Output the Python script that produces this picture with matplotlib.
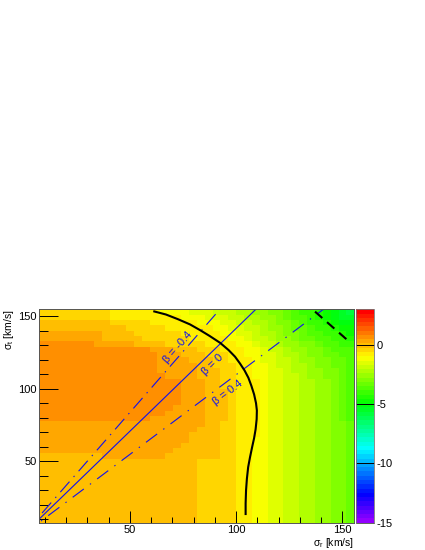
import colorsys
import numpy as np
import matplotlib
matplotlib.use('Agg')
import matplotlib.pyplot as plt
from matplotlib.colors import ListedColormap, Normalize
from matplotlib.ticker import MultipleLocator

plt.rcParams['font.family'] = ['Liberation Sans', 'DejaVu Sans']
plt.rcParams['mathtext.fontset'] = 'custom'
plt.rcParams['mathtext.rm'] = 'Liberation Sans'
plt.rcParams['mathtext.it'] = 'Liberation Sans'
plt.rcParams['axes.unicode_minus'] = False
plt.rcParams['lines.scale_dashes'] = False

# Histogram range and binning (40 x 40 cells)
sr_range = [7.3, 155.7]
st_range = [7.75, 154.6]
n_bins = 40
z_range = [-15, 3]

# Cell values, rows listed from the top (sigma_t high) to the bottom
loglike_rows = [
    [-0.4, -0.4, -0.4, -0.4, -0.4, -0.4, -0.4, -0.4, -0.4, -0.8, -0.8, -0.8, -0.8, -0.8, -0.8, -1.1, -1.1, -1.1, -1.1, -1.5,
     -1.5, -1.5, -1.9, -1.9, -1.9, -2.2, -2.2, -2.6, -2.6, -2.9, -2.9, -3.3, -3.7, -4.0, -4.0, -4.4, -4.7, -5.1, -5.5, -5.8],
    [-0.4, -0.4, -0.4, -0.4, -0.4, -0.4, -0.4, -0.4, -0.4, -0.8, -0.8, -0.8, -0.8, -0.8, -0.8, -0.8, -0.8, -0.8, -1.1, -1.1,
     -1.1, -1.5, -1.5, -1.5, -1.9, -1.9, -2.2, -2.2, -2.6, -2.6, -2.9, -3.3, -3.7, -3.7, -4.0, -4.4, -4.7, -5.1, -5.5, -5.5],
    [-0.1, -0.1, -0.1, -0.1, -0.1, -0.1, -0.1, -0.1, -0.1, -0.4, -0.4, -0.4, -0.4, -0.4, -0.8, -0.8, -0.8, -0.8, -0.8, -0.8,
     -1.1, -1.1, -1.1, -1.5, -1.5, -1.9, -1.9, -2.2, -2.2, -2.6, -2.9, -2.9, -3.3, -3.7, -4.0, -4.0, -4.4, -4.7, -5.1, -5.1],
    [-0.1, -0.1, -0.1, -0.1, -0.1, -0.1, -0.1, -0.1, -0.1, -0.1, -0.1, -0.4, -0.4, -0.4, -0.4, -0.4, -0.8, -0.8, -0.8, -0.8,
     -0.8, -0.8, -1.1, -1.1, -1.5, -1.5, -1.9, -1.9, -2.2, -2.6, -2.6, -2.9, -3.3, -3.3, -3.7, -4.0, -4.0, -4.4, -4.7, -4.7],
    [0.3, 0.3, 0.3, 0.3, 0.3, 0.3, 0.3, 0.3, -0.1, -0.1, -0.1, -0.1, -0.4, -0.4, -0.4, -0.4, -0.4, -0.4, -0.8, -0.8,
     -0.8, -0.8, -0.8, -1.1, -1.1, -1.5, -1.5, -1.9, -2.2, -2.2, -2.6, -2.9, -2.9, -3.3, -3.7, -3.7, -4.0, -4.0, -4.4, -4.7],
    [0.3, 0.3, 0.3, 0.3, 0.3, 0.3, 0.3, 0.3, -0.1, -0.1, -0.1, -0.1, -0.1, -0.4, -0.4, -0.4, -0.4, -0.4, -0.4, -0.8,
     -0.8, -0.8, -0.8, -0.8, -1.1, -1.1, -1.5, -1.9, -1.9, -2.2, -2.6, -2.6, -2.9, -3.3, -3.3, -3.7, -3.7, -4.0, -4.0, -4.4],
    [0.7, 0.7, 0.7, 0.7, 0.7, 0.7, 0.7, 0.3, 0.3, 0.3, 0.3, 0.3, -0.1, -0.1, -0.1, -0.1, -0.4, -0.4, -0.4, -0.4,
     -0.4, -0.8, -0.8, -0.8, -0.8, -1.1, -1.1, -1.5, -1.9, -1.9, -2.2, -2.6, -2.6, -2.9, -2.9, -3.3, -3.7, -3.7, -4.0, -4.0],
    [0.7, 0.7, 0.7, 0.7, 0.7, 0.7, 0.7, 0.7, 0.7, 0.7, 0.7, 0.7, 0.7, 0.7, 0.3, 0.3, 0.3, -0.1, -0.1, -0.1,
     -0.4, -0.4, -0.4, -0.8, -0.8, -0.8, -1.1, -1.1, -1.5, -1.9, -1.9, -2.2, -2.6, -2.6, -2.9, -2.9, -3.3, -3.7, -3.7, -3.7],
    [0.7, 0.7, 0.7, 0.7, 0.7, 0.7, 0.7, 0.7, 0.7, 0.7, 0.7, 0.7, 0.7, 0.7, 0.7, 0.3, 0.3, 0.3, -0.1, -0.1,
     -0.1, -0.4, -0.4, -0.4, -0.8, -0.8, -1.1, -1.1, -1.5, -1.5, -1.9, -2.2, -2.2, -2.6, -2.9, -2.9, -3.3, -3.3, -3.7, -3.7],
    [0.7, 0.7, 0.7, 0.7, 0.7, 0.7, 0.7, 0.7, 0.7, 0.7, 0.7, 0.7, 0.7, 0.7, 0.7, 0.3, 0.3, 0.3, 0.3, -0.1,
     -0.1, -0.1, -0.4, -0.4, -0.8, -0.8, -0.8, -1.1, -1.5, -1.5, -1.9, -1.9, -2.2, -2.6, -2.6, -2.9, -2.9, -3.3, -3.3, -3.7],
    [0.7, 0.7, 0.7, 0.7, 0.7, 0.7, 0.7, 0.7, 0.7, 0.7, 0.7, 0.7, 0.7, 0.7, 0.7, 0.3, 0.3, 0.3, 0.3, 0.3,
     -0.1, -0.1, -0.4, -0.4, -0.4, -0.8, -0.8, -1.1, -1.1, -1.5, -1.9, -1.9, -2.2, -2.2, -2.6, -2.9, -2.9, -3.3, -3.3, -3.7],
    [0.7, 0.7, 0.7, 0.7, 0.7, 0.7, 0.7, 0.7, 0.7, 0.7, 0.7, 0.7, 0.7, 0.7, 0.7, 0.3, 0.3, 0.3, 0.3, 0.3,
     -0.1, -0.1, -0.1, -0.4, -0.4, -0.8, -0.8, -1.1, -1.1, -1.5, -1.5, -1.9, -2.2, -2.2, -2.6, -2.6, -2.9, -2.9, -3.3, -3.7],
    [0.7, 0.7, 0.7, 0.7, 0.7, 0.7, 0.7, 0.7, 0.7, 0.7, 0.7, 0.7, 0.7, 0.7, 0.7, 0.7, 0.3, 0.3, 0.3, 0.3,
     -0.1, -0.1, -0.1, -0.4, -0.4, -0.8, -0.8, -1.1, -1.1, -1.5, -1.5, -1.9, -1.9, -2.2, -2.6, -2.6, -2.9, -2.9, -3.3, -3.7],
    [0.7, 0.7, 0.7, 0.7, 0.7, 0.7, 0.7, 0.7, 0.7, 0.7, 0.7, 0.7, 0.7, 0.7, 0.7, 0.7, 0.7, 0.7, 0.3, 0.3,
     0.3, -0.1, -0.1, -0.4, -0.4, -0.8, -0.8, -0.8, -1.1, -1.5, -1.5, -1.9, -1.9, -2.2, -2.2, -2.6, -2.6, -2.9, -3.3, -3.7],
    [0.7, 0.7, 0.7, 0.7, 0.7, 0.7, 0.7, 0.7, 0.7, 0.7, 0.7, 0.7, 0.7, 0.7, 0.7, 0.7, 0.7, 0.7, 0.3, 0.3,
     0.3, -0.1, -0.1, -0.4, -0.4, -0.8, -0.8, -0.8, -1.1, -1.5, -1.5, -1.9, -1.9, -2.2, -2.2, -2.6, -2.6, -2.9, -3.3, -3.7],
    [0.7, 0.7, 0.7, 0.7, 0.7, 0.7, 0.7, 0.7, 0.7, 0.7, 0.7, 0.7, 0.7, 0.7, 0.7, 0.7, 0.7, 0.7, 0.3, 0.3,
     0.3, -0.1, -0.1, -0.1, -0.4, -0.8, -0.8, -0.8, -1.1, -1.5, -1.5, -1.9, -1.9, -2.2, -2.2, -2.6, -2.6, -2.9, -3.3, -3.7],
    [0.7, 0.7, 0.7, 0.7, 0.7, 0.7, 0.7, 0.7, 0.7, 0.7, 0.7, 0.7, 0.7, 0.7, 0.7, 0.7, 0.7, 0.7, 0.3, 0.3,
     0.3, -0.1, -0.1, -0.1, -0.4, -0.8, -0.8, -0.8, -1.1, -1.5, -1.5, -1.9, -1.9, -2.2, -2.2, -2.6, -2.6, -2.9, -3.3, -3.7],
    [0.7, 0.7, 0.7, 0.7, 0.7, 0.7, 0.7, 0.7, 0.7, 0.7, 0.7, 0.7, 0.7, 0.7, 0.7, 0.7, 0.7, 0.7, 0.3, 0.3,
     0.3, -0.1, -0.1, -0.1, -0.4, -0.8, -0.8, -0.8, -1.1, -1.5, -1.5, -1.9, -1.9, -2.2, -2.2, -2.6, -2.6, -2.9, -3.3, -3.7],
    [0.7, 0.7, 0.7, 0.7, 0.7, 0.7, 0.7, 0.7, 0.7, 0.7, 0.7, 0.7, 0.7, 0.7, 0.7, 0.7, 0.7, 0.3, 0.3, 0.3,
     0.3, -0.1, -0.1, -0.1, -0.4, -0.8, -0.8, -0.8, -1.1, -1.5, -1.5, -1.9, -1.9, -2.2, -2.2, -2.6, -2.6, -2.9, -3.3, -3.7],
    [0.7, 0.7, 0.7, 0.7, 0.7, 0.7, 0.7, 0.7, 0.7, 0.7, 0.7, 0.7, 0.7, 0.7, 0.7, 0.7, 0.3, 0.3, 0.3, 0.3,
     0.3, -0.1, -0.1, -0.1, -0.4, -0.8, -0.8, -0.8, -1.1, -1.5, -1.5, -1.9, -1.9, -2.2, -2.2, -2.6, -2.6, -2.9, -3.3, -3.7],
    [0.7, 0.7, 0.7, 0.7, 0.7, 0.7, 0.7, 0.7, 0.7, 0.7, 0.7, 0.7, 0.7, 0.7, 0.3, 0.3, 0.3, 0.3, 0.3, 0.3,
     0.3, -0.1, -0.1, -0.1, -0.4, -0.8, -0.8, -0.8, -1.1, -1.5, -1.5, -1.9, -1.9, -2.2, -2.2, -2.6, -2.6, -2.9, -3.3, -3.7],
    [0.3, 0.3, 0.3, 0.3, 0.3, 0.3, 0.3, 0.3, 0.3, 0.3, 0.3, 0.3, 0.3, 0.3, 0.3, 0.3, 0.3, 0.3, 0.3, 0.3,
     0.3, -0.1, -0.1, -0.4, -0.4, -0.8, -0.8, -0.8, -1.1, -1.5, -1.5, -1.9, -1.9, -2.2, -2.2, -2.6, -2.6, -2.9, -2.9, -3.3],
    [0.3, 0.3, 0.3, 0.3, 0.3, 0.3, 0.3, 0.3, 0.3, 0.3, 0.3, 0.3, 0.3, 0.3, 0.3, 0.3, 0.3, 0.3, 0.3, 0.3,
     -0.1, -0.1, -0.1, -0.4, -0.4, -0.8, -0.8, -0.8, -1.1, -1.5, -1.5, -1.9, -1.9, -2.2, -2.2, -2.6, -2.6, -2.9, -2.9, -3.3],
    [0.3, 0.3, 0.3, 0.3, 0.3, 0.3, 0.3, 0.3, 0.3, 0.3, 0.3, 0.3, 0.3, 0.3, 0.3, 0.3, 0.3, 0.3, 0.3, -0.1,
     -0.1, -0.1, -0.1, -0.4, -0.4, -0.8, -0.8, -0.8, -1.1, -1.5, -1.5, -1.9, -1.9, -2.2, -2.2, -2.6, -2.6, -2.9, -2.9, -3.3],
    [0.3, 0.3, 0.3, 0.3, 0.3, 0.3, 0.3, 0.3, 0.3, 0.3, 0.3, 0.3, 0.3, 0.3, 0.3, 0.3, 0.3, 0.3, 0.3, -0.1,
     -0.1, -0.1, -0.1, -0.4, -0.4, -0.8, -0.8, -1.1, -1.1, -1.5, -1.5, -1.9, -1.9, -2.2, -2.2, -2.6, -2.6, -2.9, -2.9, -3.3],
    [0.3, 0.3, 0.3, 0.3, 0.3, 0.3, 0.3, 0.3, 0.3, 0.3, 0.3, 0.3, 0.3, 0.3, 0.3, 0.3, 0.3, 0.3, -0.1, -0.1,
     -0.1, -0.1, -0.1, -0.4, -0.4, -0.8, -0.8, -1.1, -1.1, -1.5, -1.5, -1.9, -1.9, -2.2, -2.2, -2.6, -2.6, -2.9, -2.9, -3.3],
    [0.3, 0.3, 0.3, 0.3, 0.3, 0.3, 0.3, 0.3, 0.3, 0.3, 0.3, 0.3, 0.3, 0.3, 0.3, 0.3, 0.3, -0.1, -0.1, -0.1,
     -0.1, -0.1, -0.1, -0.4, -0.4, -0.8, -0.8, -1.1, -1.1, -1.5, -1.5, -1.9, -1.9, -2.2, -2.2, -2.6, -2.6, -2.9, -2.9, -3.3],
    [-0.1, -0.1, -0.1, -0.1, -0.1, -0.1, -0.1, -0.1, 0.3, 0.3, 0.3, 0.3, 0.3, 0.3, 0.3, 0.3, -0.1, -0.1, -0.1, -0.1,
     -0.1, -0.1, -0.1, -0.4, -0.4, -0.8, -0.8, -1.1, -1.1, -1.5, -1.5, -1.9, -1.9, -2.2, -2.2, -2.6, -2.6, -2.9, -2.9, -3.3],
    [-0.1, -0.1, -0.1, -0.1, -0.1, -0.1, -0.1, -0.1, -0.1, -0.1, -0.1, -0.1, -0.1, -0.1, -0.1, -0.1, -0.1, -0.1, -0.1, -0.1,
     -0.4, -0.4, -0.4, -0.4, -0.4, -0.8, -0.8, -1.1, -1.1, -1.5, -1.5, -1.9, -1.9, -2.2, -2.2, -2.6, -2.6, -2.9, -2.9, -3.3],
    [-0.1, -0.1, -0.1, -0.1, -0.1, -0.1, -0.1, -0.1, -0.1, -0.1, -0.1, -0.1, -0.1, -0.1, -0.1, -0.1, -0.1, -0.1, -0.1, -0.1,
     -0.4, -0.4, -0.4, -0.4, -0.4, -0.8, -0.8, -1.1, -1.1, -1.5, -1.5, -1.9, -1.9, -2.2, -2.2, -2.6, -2.6, -2.9, -2.9, -3.3],
    [-0.1, -0.1, -0.1, -0.1, -0.1, -0.1, -0.1, -0.1, -0.1, -0.1, -0.1, -0.1, -0.1, -0.1, -0.1, -0.1, -0.1, -0.1, -0.1, -0.1,
     -0.4, -0.4, -0.4, -0.4, -0.4, -0.8, -0.8, -1.1, -1.1, -1.5, -1.5, -1.9, -1.9, -2.2, -2.2, -2.6, -2.6, -2.9, -2.9, -3.3],
    [-0.1, -0.1, -0.1, -0.1, -0.1, -0.1, -0.1, -0.1, -0.1, -0.1, -0.1, -0.1, -0.1, -0.1, -0.1, -0.1, -0.1, -0.1, -0.1, -0.1,
     -0.4, -0.4, -0.4, -0.4, -0.4, -0.8, -0.8, -1.1, -1.1, -1.5, -1.5, -1.9, -1.9, -2.2, -2.2, -2.6, -2.6, -2.9, -2.9, -3.3],
    [-0.1, -0.1, -0.1, -0.1, -0.1, -0.1, -0.1, -0.1, -0.1, -0.1, -0.1, -0.1, -0.1, -0.1, -0.1, -0.1, -0.1, -0.1, -0.1, -0.1,
     -0.4, -0.4, -0.4, -0.4, -0.4, -0.8, -0.8, -1.1, -1.1, -1.5, -1.5, -1.9, -1.9, -2.2, -2.2, -2.6, -2.6, -2.9, -2.9, -3.3],
    [-0.1, -0.1, -0.1, -0.1, -0.1, -0.1, -0.1, -0.1, -0.1, -0.1, -0.1, -0.1, -0.1, -0.1, -0.1, -0.1, -0.1, -0.1, -0.1, -0.1,
     -0.4, -0.4, -0.4, -0.4, -0.4, -0.8, -0.8, -1.1, -1.1, -1.5, -1.5, -1.9, -1.9, -2.2, -2.2, -2.6, -2.6, -2.9, -2.9, -3.3],
    [-0.1, -0.1, -0.1, -0.1, -0.1, -0.1, -0.1, -0.1, -0.1, -0.1, -0.1, -0.1, -0.1, -0.1, -0.1, -0.1, -0.1, -0.1, -0.1, -0.1,
     -0.4, -0.4, -0.4, -0.4, -0.4, -0.8, -0.8, -1.1, -1.1, -1.5, -1.5, -1.9, -1.9, -2.2, -2.2, -2.6, -2.6, -2.9, -2.9, -3.3],
    [-0.1, -0.1, -0.1, -0.1, -0.1, -0.1, -0.1, -0.1, -0.1, -0.1, -0.1, -0.1, -0.1, -0.1, -0.1, -0.1, -0.1, -0.1, -0.1, -0.1,
     -0.4, -0.4, -0.4, -0.4, -0.4, -0.8, -0.8, -1.1, -1.1, -1.5, -1.5, -1.9, -1.9, -2.2, -2.2, -2.6, -2.6, -2.9, -2.9, -3.3],
    [-0.1, -0.1, -0.1, -0.1, -0.1, -0.1, -0.1, -0.1, -0.1, -0.1, -0.1, -0.1, -0.1, -0.1, -0.1, -0.1, -0.1, -0.1, -0.1, -0.1,
     -0.4, -0.4, -0.4, -0.4, -0.4, -0.8, -0.8, -1.1, -1.1, -1.5, -1.5, -1.9, -1.9, -2.2, -2.2, -2.6, -2.6, -2.9, -2.9, -3.3],
    [-0.1, -0.1, -0.1, -0.1, -0.1, -0.1, -0.1, -0.1, -0.1, -0.1, -0.1, -0.1, -0.1, -0.1, -0.1, -0.1, -0.1, -0.1, -0.1, -0.1,
     -0.4, -0.4, -0.4, -0.4, -0.4, -0.8, -0.8, -1.1, -1.1, -1.5, -1.5, -1.9, -1.9, -2.2, -2.2, -2.6, -2.6, -2.9, -2.9, -3.3],
    [-0.1, -0.1, -0.1, -0.1, -0.1, -0.1, -0.1, -0.1, -0.1, -0.1, -0.1, -0.1, -0.1, -0.1, -0.1, -0.1, -0.1, -0.1, -0.1, -0.1,
     -0.4, -0.4, -0.4, -0.4, -0.4, -0.8, -0.8, -1.1, -1.1, -1.5, -1.5, -1.9, -1.9, -2.2, -2.2, -2.6, -2.6, -2.9, -2.9, -3.3],
    [-0.1, -0.1, -0.1, -0.1, -0.1, -0.1, -0.1, -0.1, -0.1, -0.1, -0.1, -0.1, -0.1, -0.1, -0.1, -0.1, -0.1, -0.1, -0.1, -0.1,
     -0.4, -0.4, -0.4, -0.4, -0.4, -0.8, -0.8, -1.1, -1.1, -1.5, -1.5, -1.9, -1.9, -2.2, -2.2, -2.6, -2.6, -2.9, -2.9, -3.3],
]

# Solid black contour (sigma_r, sigma_t)
contour_sr = [61.0, 67.0, 72.6, 78.3, 83.0, 87.5, 92.5, 96.5, 99.5, 101.8, 104.0, 105.8, 107.2,
              108.5, 109.4, 109.8, 109.7, 109.2, 108.5, 107.6, 106.6, 105.7, 105.1, 104.7, 104.5, 104.5]
contour_st = [153.3, 151.0, 147.8, 144.2, 140.3, 136.3, 131.5, 126.5, 122.0, 117.4, 112.5, 107.5, 102.0,
              96.0, 90.0, 85.0, 79.0, 72.0, 66.0, 60.0, 53.0, 46.0, 38.0, 30.0, 21.0, 13.0]

# Dashed black segment in the upper right corner
limit_sr = [137.2, 152.4]
limit_st = [153.0, 133.5]

# Anisotropy lines sigma_t = sigma_r * sqrt(2 (1 - beta))
betas = [-0.4, 0.0, 0.4]
beta_labels = ['β = -0.4', 'β = 0', 'β = 0.4']
label_sr = [72.5, 89.1, 96.2]
label_st = [128.3, 116.5, 97.0]
line_sr = [0.0, 170.0]

cbar_ticks = [0, -5, -10, -15]

# ROOT "pretty" palette: 50 hues from violet to red
palette = ListedColormap([colorsys.hls_to_rgb((280 - (i + 1) * 5.6) / 360, 0.5, 1.0) for i in range(50)])

W, H = 425, 550
fig = plt.figure(figsize=(W / 100, H / 100), dpi=100)
ax = fig.add_axes([39.3 / W, 27.3 / H, 315.0 / W, 213.4 / H])
cax = fig.add_axes([356.0 / W, 27.3 / H, 18.0 / W, 213.4 / H])

z = np.array(loglike_rows[::-1])
x_edges = np.linspace(sr_range[0], sr_range[1], n_bins + 1)
y_edges = np.linspace(st_range[0], st_range[1], n_bins + 1)
mesh = ax.pcolormesh(x_edges, y_edges, z, cmap=palette, norm=Normalize(*z_range), shading='flat')

ax.set_xlim(sr_range)
ax.set_ylim(st_range)

# beta lines
styles = [(0, (10, 4.5, 1, 4.5)), '-', (0, (10, 5.5, 1, 5.5))]
sr_arr = np.array(line_sr)
for beta, ls in zip(betas, styles):
    ax.plot(sr_arr, sr_arr * np.sqrt(2 * (1 - beta)), color='#1010ee', lw=0.8, ls=ls)

ax.plot(contour_sr, contour_st, color='black', lw=1.5, solid_capstyle='butt')
ax.plot(limit_sr, limit_st, color='black', lw=1.5, ls=(0, (7, 4.5)))

# labels along the lines
for beta, txt, x, y in zip(betas, beta_labels, label_sr, label_st):
    slope = np.sqrt(2 * (1 - beta))
    p = ax.transData.transform([(50, 50 * slope), (100, 100 * slope)])
    ang = np.degrees(np.arctan2(p[1, 1] - p[0, 1], p[1, 0] - p[0, 0]))
    ax.text(x, y, txt, color='#1010ee', fontsize=8, rotation=ang, rotation_mode='anchor',
            ha='center', va='center')

# axes and ticks
ax.xaxis.set_major_locator(MultipleLocator(50))
ax.xaxis.set_minor_locator(MultipleLocator(10))
ax.yaxis.set_major_locator(MultipleLocator(50))
ax.yaxis.set_minor_locator(MultipleLocator(10))
ax.tick_params(which='both', direction='in', top=False, right=False, width=0.7, labelsize=8)
ax.tick_params(axis='x', which='major', length=8.6, pad=2)
ax.tick_params(axis='x', which='minor', length=4.3)
ax.tick_params(axis='y', which='major', length=13.7, pad=2)
ax.tick_params(axis='y', which='minor', length=6.5)
for sp in ax.spines.values():
    sp.set_linewidth(0.7)
    sp.set_color('#555555')

fig.text(354.0 / W, 1 - 549.5 / H, r'$\sigma_{r}$ [km/s]', ha='right', va='bottom', fontsize=7.5)
fig.text(8.5 / W, 1 - 309.5 / H, r'$\sigma_{t}$ [km/s]', ha='center', va='top', rotation=90, fontsize=7.5)

# colour bar
cb = fig.colorbar(mesh, cax=cax)
cb.set_ticks(cbar_ticks)
cb.minorticks_off()
cax.tick_params(direction='in', length=13.3, width=0.7, labelsize=8, pad=2)
cb.outline.set_linewidth(0.6)
cb.outline.set_edgecolor('#777777')

fig.savefig('out.png', dpi=100)
